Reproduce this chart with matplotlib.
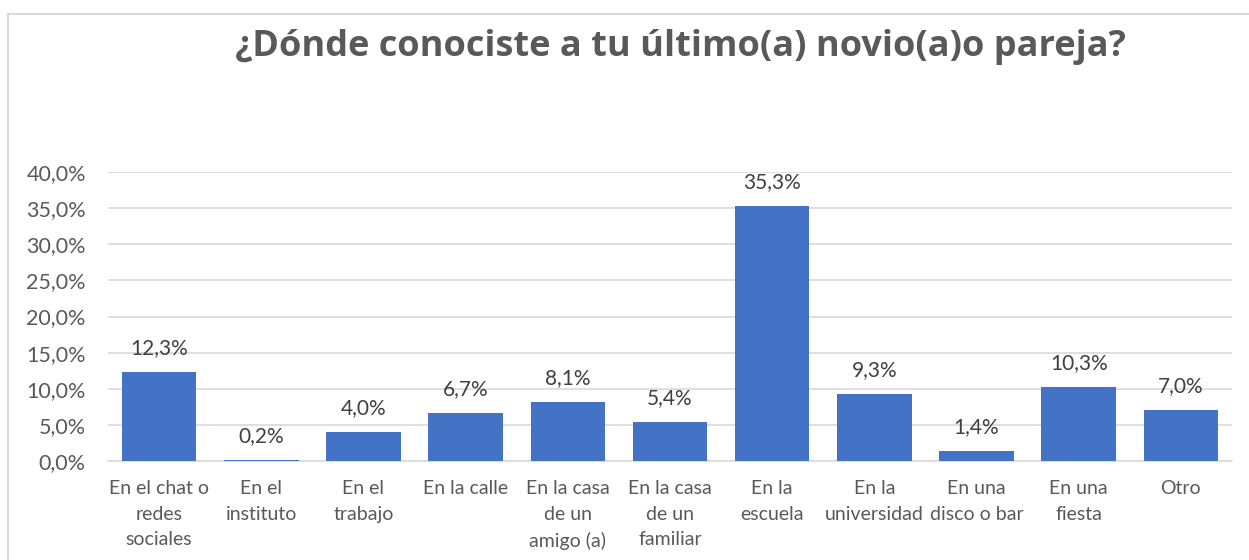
import matplotlib
matplotlib.use("Agg")
import matplotlib.pyplot as plt
from matplotlib.lines import Line2D
from matplotlib.ticker import FuncFormatter, MultipleLocator

categories = ["En el chat o\nredes\nsociales", "En el\ninstituto", "En el\ntrabajo", "En la calle",
              "En la casa\nde un\namigo (a)", "En la casa\nde un\nfamiliar", "En la\nescuela",
              "En la\nuniversidad", "En una\ndisco o bar", "En una\nfiesta", "Otro"]
values = [12.3, 0.2, 4.0, 6.7, 8.1, 5.4, 35.3, 9.3, 1.4, 10.3, 7.0]
title = "¿Dónde conociste a tu último(a) novio(a)o pareja?"

W, H = 1249, 560
fig = plt.figure(figsize=(W / 100, H / 100), dpi=100)
ax = fig.add_axes([108 / W, 1 - 461 / H, (1232 - 108) / W, (461 - 172) / H])

body_font = ["Lato", "DejaVu Sans"]
grid_c = "#D9D9D9"
txt_c = "#595959"

x = list(range(len(categories)))
ax.bar(x, values, width=0.73, color="#4472C4", zorder=3)
ax.set_xlim(-0.5, len(categories) - 0.5)
ax.set_ylim(0, 40)
ax.yaxis.set_major_locator(MultipleLocator(5))
ax.yaxis.set_major_formatter(FuncFormatter(lambda v, p: f"{v:.1f}%".replace(".", ",")))
ax.grid(axis="y", color=grid_c, linewidth=1.2, zorder=0)
for s in ["top", "right", "left"]:
    ax.spines[s].set_visible(False)
ax.spines["bottom"].set_color(grid_c)
ax.spines["bottom"].set_linewidth(1.2)
ax.tick_params(axis="both", length=0, labelcolor=txt_c)
ax.tick_params(axis="y", pad=16, labelsize=15.5)
ax.tick_params(axis="x", pad=14, labelsize=14)
ax.set_xticks(x)
ax.set_xticklabels(categories, fontfamily=body_font, linespacing=1.6)
for lab in ax.get_yticklabels():
    lab.set_fontfamily(body_font)

for xi, v in zip(x, values):
    ax.annotate(f"{v:.1f}%".replace(".", ","), (xi, v), xytext=(0, 10), textcoords="offset points",
                ha="center", va="bottom", fontsize=15, color="#404040", fontfamily=body_font)

fig.text(680 / W, 1 - 47 / H, title, ha="center", va="center", fontsize=26, fontweight="bold",
         color=txt_c, fontfamily=["Open Sans", "DejaVu Sans"])

# chart border
fig.add_artist(Line2D([8 / W, 8 / W], [0, 1 - 14 / H], color=grid_c, linewidth=1.5))
fig.add_artist(Line2D([8 / W, 1], [1 - 14 / H, 1 - 14 / H], color=grid_c, linewidth=1.5))

fig.savefig("out.png", dpi=100, facecolor="white")
